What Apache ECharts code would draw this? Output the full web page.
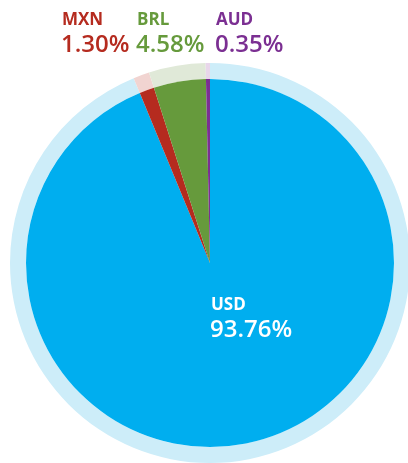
<!DOCTYPE html>
<html>
<head>
<meta charset="utf-8">
<script src="https://cdn.jsdelivr.net/npm/echarts@6/dist/echarts.min.js"></script>
<style>
  html, body { margin: 0; padding: 0; background: #fff; }
  #main { width: 408px; height: 463px; }
</style>
</head>
<body>
<div id="main"></div>
<script>
// currency exposure
var currencies = ["USD", "MXN", "BRL", "AUD"];
var shares = [93.76, 1.30, 4.58, 0.35];
var colors = ["#00aeef", "#b52b1f", "#669a3c", "#7b2f92"];
var ringColors = ["#cdedf9", "#f1d4d1", "#e0e9d8", "#e8d6ea"];

var pieData = currencies.map(function (c, i) {
  return { name: c, value: shares[i], itemStyle: { color: colors[i] } };
});
var ringData = currencies.map(function (c, i) {
  return { name: c, value: shares[i], itemStyle: { color: ringColors[i] } };
});

// label blocks: top ones outside, USD inside the big slice
var labelPos = { MXN: [62, 12], BRL: [137, 12], AUD: [216, 12], USD: [211, 297] };
var graphics = [];
currencies.forEach(function (c, i) {
  var p = labelPos[c];
  var col = c === "USD" ? "#ffffff" : colors[i];
  graphics.push({
    type: "text", left: p[0], top: p[1], z: 100,
    style: { text: c, fill: col, font: "bold 17px 'Open Sans'" }
  });
  graphics.push({
    type: "text", left: p[0] - 1, top: p[1] + 21, z: 100,
    style: { text: shares[i].toFixed(2) + "%", fill: col, font: "600 24px 'Open Sans'" }
  });
});

var chart = echarts.init(document.getElementById("main"));
chart.setOption({
  animation: false,
  series: [
    {
      type: "pie",
      center: [210, 263],
      radius: [184, 200],
      startAngle: 90,
      silent: true,
      label: { show: false },
      labelLine: { show: false },
      itemStyle: { borderWidth: 0 },
      data: ringData
    },
    {
      type: "pie",
      center: [210, 263],
      radius: [0, 184],
      startAngle: 90,
      silent: true,
      label: { show: false },
      labelLine: { show: false },
      itemStyle: { borderWidth: 0 },
      data: pieData
    }
  ],
  graphic: graphics
});
</script>
</body>
</html>
